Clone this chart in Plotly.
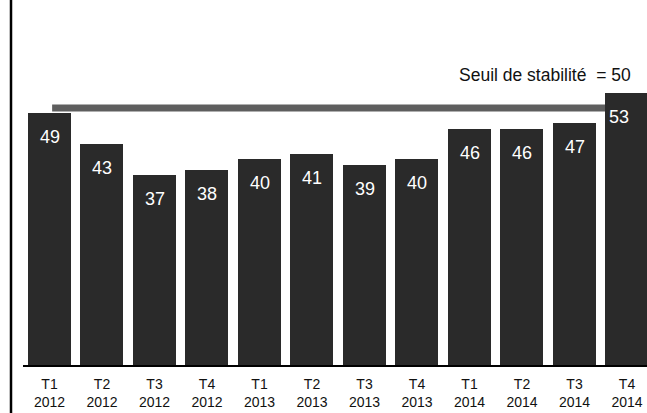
import plotly.graph_objects as go

quarters = ["T1", "T2", "T3", "T4", "T1", "T2", "T3", "T4", "T1", "T2", "T3", "T4"]
years = ["2012", "2012", "2012", "2012", "2013", "2013", "2013", "2013", "2014", "2014", "2014", "2014"]
values = [49, 43, 37, 38, 40, 41, 39, 40, 46, 46, 47, 53]
threshold = 50
threshold_label = "Seuil de stabilité  = 50"

W, H = 647, 413
FONT = "Liberation Sans, Arial, sans-serif"
BAR = "#2a2a2a"

xs = list(range(len(values)))
ticktext = [f"{q}<br>{y}" for q, y in zip(quarters, years)]

fig = go.Figure()
fig.add_trace(go.Bar(
    x=xs, y=values, width=0.82,
    marker=dict(color=BAR, line=dict(width=0)),
    hoverinfo="skip",
))

# value labels inside bars
for i, v in enumerate(values):
    fig.add_annotation(
        x=i, y=v, xref="x", yref="y", text=str(v), showarrow=False,
        yshift=-24, xshift=(-8 if i == len(values) - 1 else 0),
        font=dict(family=FONT, size=18, color="white"),
    )

# threshold line (below bars)
fig.add_shape(type="line", xref="x", yref="y", x0=0.05, x1=11.13,
              y0=threshold, y1=threshold, layer="below",
              line=dict(color="#5e5e5e", width=7))
fig.add_annotation(x=633 / W, y=1 - 75 / H, xref="paper", yref="paper",
                   xanchor="right", yanchor="middle", text=threshold_label,
                   showarrow=False, font=dict(family=FONT, size=17.5, color="#111"))

# left border line
fig.add_shape(type="line", xref="paper", yref="paper", x0=11 / W, x1=11 / W,
              y0=0, y1=1, line=dict(color="black", width=2.5))

x_left = 23.25
px_per_unit = 52.5
x_max = -0.5 + (W - x_left) / px_per_unit
base_px = 365
y_top = base_px / 5.14

fig.update_layout(
    width=W, height=H,
    margin=dict(l=0, r=0, t=0, b=0),
    paper_bgcolor="white", plot_bgcolor="white",
    showlegend=False,
    bargap=0,
    xaxis=dict(domain=[x_left / W, 1], range=[-0.5, x_max],
               tickmode="array", tickvals=xs, ticktext=ticktext,
               showgrid=False, zeroline=False, showline=True,
               linecolor="black", linewidth=1.5, ticks="", automargin=False,
               ticklabelstandoff=5,
               tickfont=dict(family=FONT, size=14, color="#111")),
    yaxis=dict(domain=[(H - base_px) / H, 1], range=[0, y_top],
               visible=False, showgrid=False, zeroline=False, automargin=False),
)

fig.write_html("out.html")
